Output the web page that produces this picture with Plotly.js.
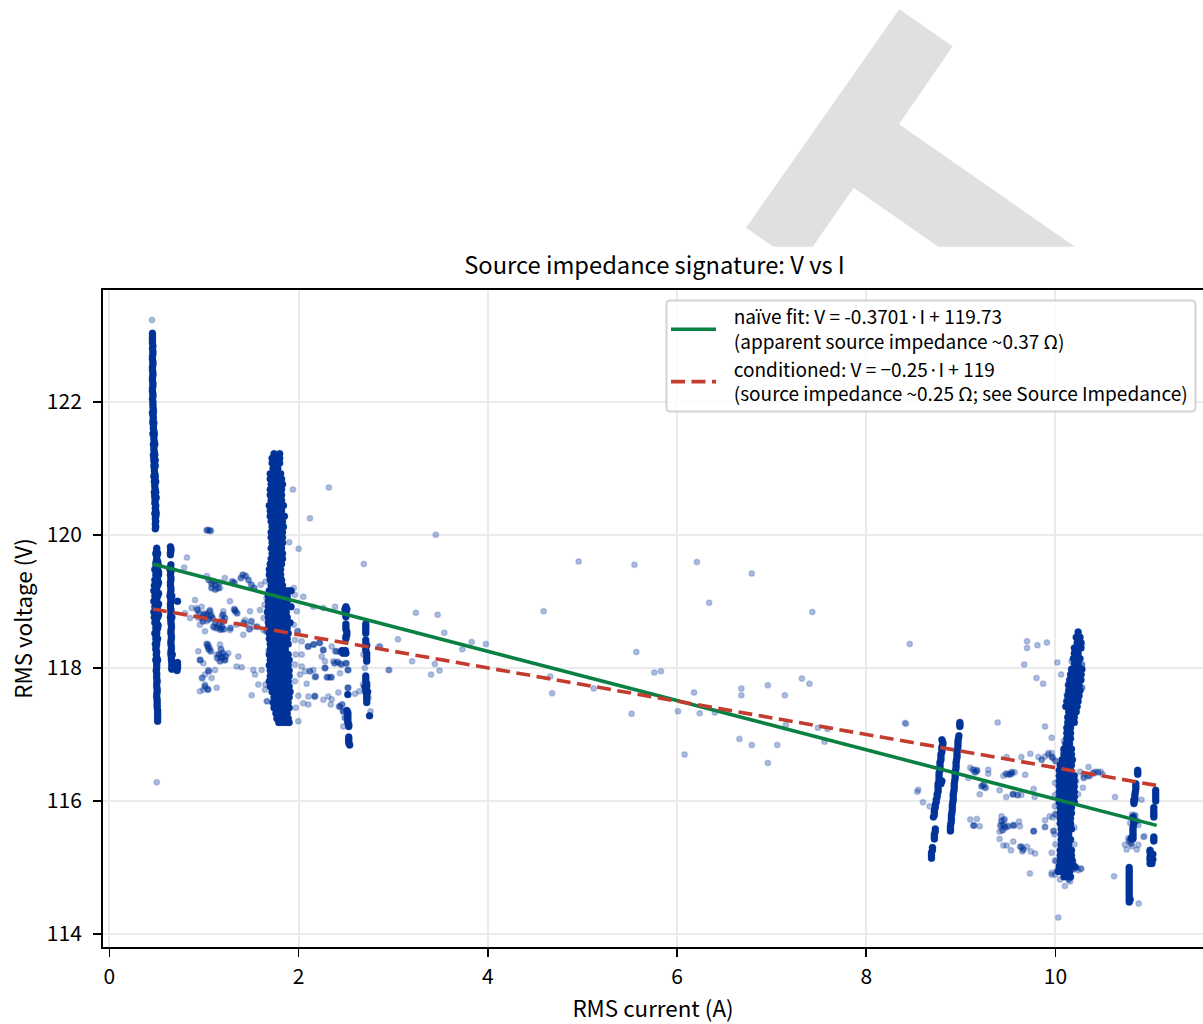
<!DOCTYPE html>
<html><head><meta charset="utf-8">
<script src="https://cdn.plot.ly/plotly-3.0.1.min.js"></script>
<style>html,body{margin:0;padding:0;background:#fff;overflow:hidden}</style></head>
<body><div id="chart"></div>
<script>
// Dense columns: each row is [voltage, current, current, ...]
const colA=[[123.03,.455],[122.99,.455],[122.95,.455],[122.92,.455],[122.88,.455],[122.84,.46],[122.8,.455],[122.76,.46],[122.72,.46],[122.68,.455],[122.64,.455],[122.6,.46],[122.56,.46],[122.52,.455],[122.48,.455],[122.44,.46],[122.4,.46],[122.36,.455],[122.32,.455],[122.28,.46],[122.24,.46],[122.2,.455],[122.16,.455],[122.12,.46],[122.08,.46],[122.04,.455],[122,.46],[121.96,.46],[121.92,.46],[121.88,.465],[121.84,.455,.465],[121.8,.46],[121.76,.465],[121.72,.46],[121.68,.46,.47],[121.64,.465],[121.6,.465],[121.56,.47],[121.52,.46,.475],[121.48,.47],[121.44,.47],[121.4,.475],[121.36,.465,.48],[121.32,.47],[121.28,.47],[121.24,.475],[121.2,.465,.48],[121.16,.47],[121.12,.47,.485],[121.08,.475],[121.04,.47,.485],[121,.475],[120.96,.475],[120.92,.48],[120.88,.47,.485],[120.84,.48],[120.8,.475,.49],[120.76,.48],[120.72,.48],[120.68,.485],[120.64,.475,.49],[120.6,.48],[120.56,.48,.495],[120.52,.485],[120.48,.48],[120.44,.49],[120.4,.485],[120.36,.49],[120.32,.48,.495],[120.28,.49],[120.24,.485],[120.2,.49],[120.16,.485],[120.12,.49],[120.09,.485]];
const colB=[[119.8,.5],[119.76,.5],[119.72,.49,.51],[119.68,.5],[119.64,.5],[119.6,.495,.51],[119.56,.49,.515],[119.52,.5],[119.48,.48,.51],[119.44,.5,.52],[119.4,.49,.52],[119.36,.5],[119.32,.48,.51],[119.28,.5,.52],[119.24,.475,.51],[119.2,.49],[119.16,.47,.5],[119.12,.49,.52],[119.08,.48,.51],[119.04,.5],[119,.47,.5],[118.96,.49,.52],[118.92,.48,.51],[118.88,.5],[118.84,.47,.5],[118.8,.49,.52],[118.76,.475,.51],[118.72,.49],[118.68,.48,.5],[118.64,.5,.515],[118.6,.49,.51],[118.56,.5],[118.52,.48,.5],[118.48,.495],[118.44,.49,.51],[118.4,.5],[118.36,.485,.5],[118.32,.495],[118.28,.49],[118.24,.5],[118.2,.495],[118.16,.5],[118.12,.49,.51],[118.08,.5],[118.04,.5],[118,.5],[117.96,.495],[117.92,.5],[117.88,.5],[117.84,.5],[117.8,.505],[117.76,.5],[117.72,.5],[117.68,.505],[117.64,.505],[117.6,.5],[117.56,.5],[117.52,.505],[117.48,.505],[117.44,.505],[117.4,.505],[117.36,.51],[117.32,.51],[117.28,.51],[117.24,.51],[117.2,.51]];
const colC=[[119.82,.645],[119.79,.65],[119.76,.65],[119.73,.645],[119.7,.645],[119.55,.65],[119.51,.645],[119.48,.64,.655],[119.44,.65],[119.4,.645],[119.36,.65],[119.32,.65],[119.28,.645],[119.24,.645],[119.2,.65],[119.16,.65],[119.12,.645],[119.08,.64,.66],[119.04,.65],[119,.65],[118.96,.645],[118.92,.645],[118.88,.65],[118.84,.65],[118.8,.65],[118.76,.645,.66],[118.72,.65],[118.68,.65],[118.64,.655],[118.6,.655],[118.56,.65],[118.52,.65],[118.48,.655],[118.44,.655],[118.4,.65],[118.36,.65],[118.32,.655],[118.28,.655],[118.24,.65],[118.2,.65,.665],[118.16,.655],[118.12,.655],[118.08,.66],[118.04,.66],[118,.66],[117.98,.66],[119,.72],[118.08,.72],[118.04,.72],[118,.72],[117.96,.715]];
const colD=[[121.22,1.74,1.8],[121.15,1.72,1.76,1.8],[121.08,1.72,1.76,1.8],[121,1.73,1.78],[120.92,1.7,1.74,1.78,1.81],[120.84,1.7,1.74,1.78,1.82],[120.76,1.71,1.75,1.79,1.83],[120.68,1.7,1.74,1.78,1.82],[120.6,1.7,1.74,1.78,1.82],[120.52,1.71,1.75,1.79,1.82],[120.44,1.69,1.73,1.77,1.81,1.84],[120.36,1.7,1.74,1.78,1.82],[120.28,1.7,1.74,1.78,1.82,1.85],[120.2,1.71,1.75,1.79,1.83],[120.12,1.72,1.76,1.8,1.84],[120.04,1.71,1.75,1.79,1.83],[119.96,1.71,1.75,1.79,1.83],[119.88,1.72,1.76,1.8,1.83],[119.8,1.71,1.75,1.79,1.82],[119.72,1.72,1.76,1.8,1.83],[119.64,1.71,1.75,1.79,1.83],[119.56,1.7,1.74,1.78,1.82],[119.48,1.69,1.73,1.77,1.81],[119.4,1.69,1.73,1.77,1.81],[119.32,1.7,1.74,1.78,1.82],[119.24,1.71,1.75,1.79,1.83],[119.16,1.69,1.73,1.77,1.81,1.85,1.89,1.92],[119.08,1.68,1.72,1.76,1.8,1.84,1.88],[119,1.68,1.72,1.76,1.8,1.84,1.88],[118.92,1.68,1.72,1.76,1.8,1.84,1.88,1.92],[118.84,1.67,1.71,1.75,1.79,1.83,1.87],[118.76,1.68,1.72,1.76,1.8,1.84,1.88],[118.68,1.68,1.72,1.76,1.8,1.84,1.88,1.91],[118.6,1.68,1.72,1.76,1.8,1.84,1.88],[118.52,1.69,1.73,1.77,1.81,1.85,1.89],[118.44,1.69,1.73,1.77,1.81,1.85,1.88],[118.36,1.7,1.74,1.78,1.82,1.86,1.89],[118.28,1.7,1.74,1.78,1.82,1.86],[118.2,1.69,1.73,1.77,1.81,1.85,1.89],[118.12,1.7,1.74,1.78,1.82,1.86,1.9],[118.04,1.69,1.73,1.77,1.81,1.85,1.89],[117.96,1.7,1.74,1.78,1.82,1.86,1.9],[117.88,1.7,1.74,1.78,1.82,1.86,1.9],[117.8,1.69,1.73,1.77,1.81,1.85,1.89],[117.72,1.7,1.74,1.78,1.82,1.86,1.9],[117.64,1.72,1.76,1.8,1.84,1.88,1.91],[117.56,1.74,1.78,1.82,1.86,1.9],[117.48,1.73,1.77,1.81,1.85,1.89],[117.4,1.74,1.78,1.82,1.86,1.9],[117.32,1.76,1.8,1.84,1.88],[117.24,1.77,1.81,1.85,1.89],[117.18,1.79,1.83,1.87,1.9]];
const colL=[[118.92,2.5],[118.88,2.49,2.51],[118.84,2.5],[118.8,2.5],[118.77,2.5],[118.66,2.5],[118.62,2.5],[118.58,2.5],[118.54,2.51],[118.5,2.51],[118.47,2.5],[118.44,2.5],[118.26,2.46,2.49],[118.22,2.47,2.5],[117.6,2.52],[117.36,2.51],[117.33,2.52],[117.3,2.52],[117.27,2.52],[117.24,2.52],[117.21,2.52],[117.18,2.52],[117.15,2.53],[117.12,2.53],[116.96,2.53],[116.93,2.53],[116.9,2.53],[116.87,2.53],[116.84,2.54]];
const colM=[[118.66,2.71],[118.63,2.71],[118.6,2.71],[118.56,2.71],[118.52,2.71],[118.42,2.71],[118.38,2.71],[118.34,2.72],[118.3,2.71],[118.26,2.71],[118.22,2.72],[118.18,2.72],[118.14,2.72],[118.1,2.72],[117.88,2.71],[117.84,2.71],[117.8,2.71],[117.76,2.72],[117.72,2.72,2.7],[117.68,2.71],[117.64,2.71,2.73],[117.6,2.72],[117.56,2.72],[117.52,2.72],[117.48,2.72],[117.28,2.75]];
const colE=[[116.92,8.8],[116.88,8.81],[116.85,8.81],[116.81,8.8],[116.78,8.8],[116.74,8.8],[116.7,8.79],[116.66,8.79],[116.62,8.79],[116.58,8.78],[116.54,8.78],[116.5,8.78],[116.46,8.78],[116.42,8.77],[116.38,8.77],[116.34,8.77],[116.3,8.77,8.8],[116.26,8.76,8.79],[116.22,8.76],[116.18,8.76],[116.14,8.76],[116.1,8.75],[116.06,8.75],[116.02,8.74],[115.98,8.74],[115.94,8.73],[115.9,8.73],[115.86,8.72],[115.83,8.72],[115.79,8.72],[115.76,8.71],[115.58,8.73],[115.54,8.73],[115.5,8.72],[115.46,8.72],[115.43,8.72],[115.3,8.7],[115.26,8.7],[115.22,8.69],[115.18,8.69],[115.14,8.69]];
const colF=[[117.18,8.99],[117.15,8.99],[117.12,8.99],[116.98,8.98],[116.94,8.975],[116.9,8.97],[116.86,8.97],[116.82,8.97],[116.78,8.965],[116.74,8.96],[116.7,8.96],[116.66,8.96],[116.62,8.955],[116.58,8.95],[116.54,8.95],[116.5,8.95],[116.46,8.945],[116.42,8.94],[116.38,8.94],[116.34,8.94],[116.3,8.935],[116.26,8.93],[116.22,8.93],[116.18,8.93],[116.14,8.925],[116.1,8.92],[116.06,8.92],[116.02,8.92],[115.98,8.915],[115.94,8.91],[115.9,8.91],[115.86,8.91],[115.82,8.905],[115.78,8.9],[115.74,8.9],[115.7,8.9],[115.66,8.895],[115.62,8.89],[115.58,8.89],[115.55,8.89]];
const colG=[[118.54,10.24],[118.46,10.22,10.26],[118.38,10.23,10.27],[118.3,10.2,10.24,10.27],[118.22,10.2,10.24],[118.14,10.19,10.23,10.26],[118.06,10.2,10.24],[117.98,10.17,10.21,10.25,10.28],[117.9,10.16,10.2,10.24,10.27],[117.82,10.15,10.19,10.23,10.27],[117.74,10.14,10.18,10.22,10.25],[117.66,10.14,10.18,10.22,10.26],[117.58,10.13,10.17,10.21,10.25],[117.5,10.12,10.16,10.2,10.24],[117.42,10.11,10.15,10.19,10.23],[117.34,10.14,10.18,10.22],[117.26,10.13,10.17,10.2],[117.18,10.13,10.17,10.2],[117.1,10.12,10.16],[117.02,10.12,10.16],[116.94,10.12,10.16],[116.86,10.11,10.15],[116.78,10.09,10.13,10.17],[116.7,10.09,10.13,10.17],[116.62,10.07,10.11,10.15,10.18],[116.54,10.05,10.09,10.13,10.17],[116.46,10.04,10.08,10.12,10.16],[116.38,10.04,10.08,10.12,10.16,10.2],[116.3,10.04,10.08,10.12,10.16,10.2],[116.22,10.04,10.08,10.12,10.16,10.2],[116.14,10.04,10.08,10.12,10.16,10.2],[116.06,10.04,10.08,10.12,10.16,10.2],[115.98,10.04,10.08,10.12,10.16,10.2],[115.9,10.05,10.09,10.13,10.17],[115.82,10.05,10.09,10.13,10.17],[115.74,10.05,10.09,10.13,10.16],[115.66,10.05,10.09,10.13,10.16],[115.58,10.06,10.1,10.14,10.17],[115.5,10.06,10.1,10.14],[115.42,10.06,10.1,10.14,10.16],[115.34,10.06,10.1,10.14],[115.26,10.05,10.09,10.13,10.17],[115.18,10.05,10.09,10.13,10.17],[115.1,10.05,10.09,10.13,10.18],[115.02,10.04,10.08,10.12,10.16,10.2],[114.94,10.03,10.07,10.11,10.15],[114.86,10.09,10.13,10.16]];
const colH=[[116.46,10.87],[116.43,10.87],[116.4,10.87],[116.26,10.85],[116.22,10.85],[116.18,10.85],[116.14,10.845],[116.1,10.84],[116.06,10.84],[116.02,10.84,10.83],[115.99,10.83],[115.96,10.83],[115.76,10.82],[115.72,10.825],[115.68,10.83],[115.64,10.825],[115.6,10.82],[115.56,10.82],[115.52,10.82],[115.48,10.82],[115.44,10.82,10.8]];
const colI=[[115,10.78],[114.96,10.78],[114.92,10.78],[114.88,10.78],[114.84,10.78],[114.8,10.78],[114.76,10.78],[114.72,10.78],[114.68,10.78],[114.64,10.78],[114.6,10.78],[114.56,10.78],[114.52,10.78,10.79],[114.48,10.78]];
const colJ=[[116.16,11.06],[116.12,11.06],[116.08,11.06],[116.04,11.06],[116,11.06],[115.9,11.04],[115.86,11.04],[115.82,11.04],[115.79,11.04],[115.76,11.04],[115.46,11.04],[115.43,11.04],[115.4,11.04],[115.26,11],[115.23,11],[115.2,11.01,11.03],[115.16,11],[115.12,11,11.03],[115.09,11.01],[115.06,11,11.02]];
// Loose points, as [current, voltage]
const looseMiddle=[[3.45,120],[4.96,119.6],[5.55,119.55],[6.21,119.59],[6.79,119.42],[6.34,118.98],[7.43,118.84],[4.59,118.85],[3.24,118.83],[3.47,118.8],[3.54,118.53],[3.83,118.39],[3.98,118.36],[3.73,118.28],[5.57,118.24],[3.2,118.1],[3.44,118.06],[3.49,117.96],[3.4,117.9],[5.76,117.93],[5.83,117.95],[4.66,117.87],[4.68,117.62],[5.12,117.69],[5.52,117.31],[6.18,117.63],[6.68,117.69],[6.68,117.59],[6.96,117.74],[7.32,117.84],[7.4,117.76],[7.14,117.59],[6.01,117.35],[6.24,117.32],[6.4,117.33],[7.15,117.14],[7.49,117.1],[7.59,117.08],[7.56,116.89],[6.66,116.93],[6.79,116.84],[7.06,116.84],[6.96,116.57],[6.08,116.7],[8.46,118.36],[8.41,117.17],[8.55,116.17]];
const looseLeft=[[.45,123.23],[1.94,120.68],[2.32,120.71],[2.12,120.25],[2,119.79],[1.9,119.89],[.82,119.66],[.79,119.51],[2.69,119.56],[3.05,118.43],[2.85,118.32],[2.96,117.97],[.5,116.28],[.905,119.02],[.869,118.9],[.922,118.9],[.975,118.92],[1.01,118.82],[1.063,118.87],[1.08,118.8],[1.204,118.85],[1.186,118.77],[1.274,119],[1.327,118.87],[1.486,118.85],[1.592,118.87],[.8,118.82],[.852,118.75],[.94,118.75],[.957,118.65],[1.01,118.55],[1.028,118.7],[1.116,118.6],[1.169,118.57],[1.274,118.57],[1.345,118.65],[1.433,118.72],[1.451,118.65],[1.415,118.5],[1.521,118.62],[1.627,118.57],[1.045,118.35],[1.063,118.3],[1.169,118.35],[1.186,118.17],[1.134,118.2],[1.222,118.12],[1.257,118.22],[1.363,118.17],[.94,118.25],[.957,118.12],[.993,118.07],[1.045,117.97],[1.116,117.97],[1.01,117.9],[1.08,117.85],[1.01,117.75],[.993,117.67],[1.045,117.67],[.957,117.65],[1.134,117.7],[1.345,118.02],[1.398,118.01],[1.521,117.97],[1.539,117.9],[1.609,117.97],[1.574,117.75],[1.504,117.59],[1.662,117.5],[1.644,117.67],[1.03,119.38],[1.17,119.2],[1.22,119.35],[1.67,117.5],[1.6,119.25],[1.65,119.3],[1.66,119.05],[1.63,118.75],[1.64,118.95],[1.65,117.75],[1.68,118.25]];
const looseCentre=[[2.05,119.07],[1.962,118.42],[2.033,118.4],[2.103,118.32],[2.156,118.35],[2.226,118.37],[2.262,118.27],[2.35,118.32],[2.385,118.25],[2.156,118.92],[2.262,118.9],[2.385,118.92],[2.033,118.2],[2.244,118.17],[1.962,118.05],[2.033,118.02],[2.015,117.9],[2.068,117.95],[2.156,117.97],[2.173,117.86],[2.279,118],[2.279,118.1],[2.367,118.1],[2.438,118.07],[2.508,118.07],[2.526,117.97],[2.438,117.92],[2.314,117.86],[2.35,117.86],[2.085,117.76],[1.997,117.58],[2.103,117.57],[2.173,117.58],[2.05,117.47],[2.103,117.45],[2.262,117.52],[2.314,117.57],[2.35,117.53],[2.339,117.45],[2.42,117.63],[2.526,117.7],[2.596,117.61],[2.642,117.65],[2.438,117.42],[2.473,117.35],[2.473,117.12],[1.997,117.2],[2.684,118.2],[2.861,118.32],[2.949,117.97],[1.96,119.1],[1.98,118.85],[1.95,118.65],[1.97,118.2],[1.96,117.8],[1.97,117.4],[1.95,119.2],[2.7,118.0],[2.74,117.55],[2.68,117.75],[2.76,117.35]];
const looseRight=[[8.42,117.16],[9.39,117.18],[9.89,117.12],[9.96,116.95],[9.485,116.66],[9.64,116.66],[9.735,116.71],[9.82,116.66],[9.925,116.7],[9.96,116.72],[9.855,116.62],[9.1,116.5],[9.17,116.47],[9.08,116.345],[9.29,116.47],[9.29,116.41],[9.45,116.38],[9.5,116.395],[9.54,116.41],[9.57,116.43],[9.68,116.395],[9.2,116.1],[9.41,116.16],[9.48,116.06],[9.555,116.1],[9.64,116.09],[9.77,116.18],[9.78,116.06],[8.54,116.14],[8.6,115.98],[8.67,115.92],[9.1,115.72],[9.17,115.73],[9.13,115.63],[9.2,115.62],[9.43,115.77],[9.41,115.54],[9.555,115.64],[9.615,115.69],[9.625,115.62],[9.77,115.54],[9.41,115.43],[9.555,115.39],[9.45,115.33],[9.485,115.33],[9.53,115.26],[9.625,115.31],[9.65,115.24],[9.7,115.31],[9.74,115.24],[9.785,115.21],[9.73,114.91],[9.89,115.71],[9.89,115.61],[9.96,114.89],[9.7,118.4],[9.7,118.3],[9.81,118.34],[9.91,118.38],[9.67,118.05],[10.02,118.08],[10.06,117.9],[9.8,117.85],[9.87,117.76],[10.03,114.25],[10.62,114.87],[10.88,114.46],[10.63,116.06],[10.35,116.51],[10.29,116.2],[10.93,115.46],[10.26,116.44],[10.3,116.4],[10.34,116.37],[10.42,116.44],[10.48,116.44],[10.5,116.4],[10.735,115.34],[10.753,115.27],[10.77,115.44],[10.81,115.32],[10.86,115.27],[10.877,115.34],[10.824,115.47],[10.79,115.67],[10.81,115.795],[10.877,115.64],[10.91,116.02],[10.94,115.47],[9.855,116.62],[9.89,116.67],[9.925,116.72],[9.96,116.67],[9.995,116.27],[9.995,116.09],[9.995,115.92],[9.94,115.77],[9.89,115.61],[9.96,115.22],[9.96,114.92],[10.21,114.99],[9.995,114.89],[10.05,114.82],[10.155,114.79],[10.24,114.96],[10.1,114.72],[9.99,115.5],[9.97,115.75],[10,115.35],[10.12,117.6],[10.14,117.45],[10.09,116.9],[10.08,116.75],[10.22,116.3],[10.24,116.1],[10.2,115.6],[10.2,115.35],[10.28,118.35],[10.17,118.1],[10.28,117.9],[10.13,117.75]];
const clusterLeft=[[1.05,120.07],[1.07,120.06],[1.03,120.07],[1.05,119.32],[1.08,119.27],[1.12,119.25],[1.15,119.2],[1.1,119.3],[1.16,119.28],[1.08,119.2],[1.12,119.18],[1.41,119.4],[1.44,119.38],[1.39,119.35],[1.47,119.32],[1.5,119.25],[1.53,119.2],[1.3,119.3],[1.32,119.28],[1.1,118.62],[1.14,118.6],[1.18,118.58],[1.16,118.65],[1.12,118.68],[1.2,118.7],[1.05,118.73],[1.06,118.85],[1.07,118.78],[1.03,118.8],[1.09,118.75],[1.19,118.62],[1.21,118.58],[1.04,118.32],[1.05,118.28],[1.03,118.36],[1.07,118.25],[1.16,118.2],[1.19,118.15],[1.22,118.12],[1.17,118.1],[1.2,118.22],[1.14,118.15],[1.23,118.18],[1.18,118.28],[.93,118.87],[.95,118.82],[1.0,118.8],[.98,118.75],[1.2,118.8],[1.22,118.75],[1.33,118.85],[1.35,118.82],[1.32,118.88],[.99,118.7],[.96,118.12],[1.05,117.95],[1.01,117.72],[.98,117.85],[1.04,117.68],[1.28,118.6],[1.42,118.68],[1.5,118.7],[1.56,118.62],[1.66,118.55],[1.48,118.58]];
const clusterCentre=[[2.47,118.25],[2.44,118.24],[2.5,118.26],[2.45,118.05],[2.38,118.07],[2.41,118.09],[2.5,118.07],[2.52,117.97],[2.3,117.86],[2.34,117.86],[2.18,117.87],[2.12,117.95],[2.52,117.7],[2.43,117.42],[2.47,117.35],[2.46,117.45],[2.49,117.25],[2.16,118.35],[2.26,118.27],[2.4,118.25],[2.1,118.32],[2.28,118],[2.22,118.38],[2.17,117.57],[1.99,118.55]];
const clusterRight=[[9.13,116.47],[9.15,116.43],[9.17,116.45],[9.24,116.24],[9.26,116.2],[9.22,116.22],[9.48,116.41],[9.52,116.4],[9.54,116.43],[9.43,115.7],[9.45,115.64],[9.47,115.6],[9.44,115.56],[9.5,115.62],[9.56,115.63],[9.46,115.72],[9.42,115.63],[9.64,115.31],[9.66,115.27],[9.77,115.55],[9.14,115.63],[9.55,116.1],[9.6,116.09],[10.78,115.4],[10.82,115.42],[10.8,115.36],[10.84,115.78],[10.86,115.7],[10.3,116.35],[10.45,116.43],[10.36,116.38],[10.4,116.42],[10.22,115],[10.18,114.97],[10.27,114.98],[10.02,114.95],[10.06,114.98],[10.14,114.82],[10.1,114.87],[10,116.6],[9.97,116.65],[10,115.8],[9.98,115.55],[10,115.1],[10.28,117.7],[10.28,118.05]];
const bandAll=[colA,colB,colC,colD,colL,colM,colE,colF,colG,colH,colI,colJ];
const looseAll=[looseMiddle,looseLeft,looseCentre,looseRight];
const clusterAll=[clusterLeft,clusterCentre,clusterRight];
// Fit lines
const fitCurrent=[0.46,11.07];
const naiveVoltage=[119.56,115.633];
const conditionedVoltage=[118.885,116.233];
const xTicks=[0,2,4,6,8,10];
const yTicks=[114,116,118,120,122];
const chartTitle='Source impedance signature: V vs I';
const xTitle='RMS current (A)';
const yTitle='RMS voltage (V)';
const pad='\u00a0\u00a0\u00a0';
const naiveName=pad+'naïve fit: V = -0.3701·I + 119.73<br>'+pad+'(apparent source impedance ~0.37 Ω)';
const conditionedName=pad+'conditioned: V = −0.25·I + 119<br>'+pad+'(source impedance ~0.25 Ω; see Source Impedance)';
// Watermark outline in page pixels
const logoOutline=[[899.3,9],[952.7,46],[899,124],[1075,246.7],[938.3,246.7],[853.7,187.7],[812.7,246.7],[773.3,246.7],[746,227.7]];

const FONT='"Noto Sans CJK JP","Noto Sans",sans-serif';
const L=103,T=290,B=947.5,W=1203,H=1024;
const bx=[],by=[];bandAll.forEach(c=>c.forEach(r=>{for(let i=1;i<r.length;i++){bx.push(r[i]);by.push(r[0]);}}));
const lx=[],ly=[];looseAll.forEach(c=>c.forEach(p=>{lx.push(p[0]);ly.push(p[1]);}));
const cx=[],cy=[];clusterAll.forEach(c=>c.forEach(p=>{cx.push(p[0]);cy.push(p[1]);}));
const px=x=>(x-L)/(W-L), py=y=>(B-y)/(B-T);
const logoPath='M'+logoOutline.map(p=>px(p[0]).toFixed(5)+','+py(p[1]).toFixed(5)).join(' L')+' Z';
const X=v=>px(v).toFixed(5),Y=v=>py(v).toFixed(5);
const b={l:666.5,r:1195.5,t:300.5,b:411.5,c:4};
const boxPath=`M${X(b.l+b.c)},${Y(b.t)} L${X(b.r-b.c)},${Y(b.t)} Q${X(b.r)},${Y(b.t)} ${X(b.r)},${Y(b.t+b.c)} L${X(b.r)},${Y(b.b-b.c)} Q${X(b.r)},${Y(b.b)} ${X(b.r-b.c)},${Y(b.b)} L${X(b.l+b.c)},${Y(b.b)} Q${X(b.l)},${Y(b.b)} ${X(b.l)},${Y(b.b-b.c)} L${X(b.l)},${Y(b.t+b.c)} Q${X(b.l)},${Y(b.t)} ${X(b.l+b.c)},${Y(b.t)} Z`;
const traces=[
 {type:'scatter',mode:'markers',x:lx,y:ly,showlegend:false,hoverinfo:'skip',marker:{size:5.5,color:'rgba(0,51,153,0.32)',line:{width:1.5,color:'rgba(0,51,153,0.2)'}}},
 {type:'scatter',mode:'markers',x:cx,y:cy,showlegend:false,hoverinfo:'skip',marker:{size:6,color:'rgba(0,51,153,0.6)',line:{width:1.5,color:'rgba(0,51,153,0.25)'}}},
 {type:'scatter',mode:'markers',x:bx,y:by,showlegend:false,hoverinfo:'skip',marker:{size:7,color:'rgb(0,51,153)',line:{width:1,color:'rgba(0,51,153,0.35)'}}},
 {type:'scatter',mode:'lines',x:fitCurrent,y:naiveVoltage,name:naiveName,line:{color:'#0b8043',width:3.6}},
 {type:'scatter',mode:'lines',x:fitCurrent,y:conditionedVoltage,name:conditionedName,line:{color:'#c43c2f',width:3.6,dash:'14px,6.5px'}}
];
const layout={
 width:W,height:H,autosize:false,paper_bgcolor:'#fff',plot_bgcolor:'#fff',
 margin:{l:L,r:0,t:T,b:H-B,pad:0},
 font:{family:FONT,size:21,color:'#000'},
 title:{text:chartTitle,font:{size:23.7,family:FONT,color:'#000'},xref:'container',x:654.5/W,xanchor:'center',yref:'container',y:1-266/H,yanchor:'middle'},
 xaxis:{range:[-0.0677,11.56],tickvals:xTicks,ticktext:xTicks.map(String),ticks:'outside',ticklen:8,tickwidth:1.6,tickcolor:'#000',ticklabelstandoff:2,
  showline:true,linecolor:'#000',linewidth:2,mirror:true,showgrid:true,gridcolor:'#ebebeb',gridwidth:2,zeroline:false,
  title:{text:xTitle,standoff:12,font:{size:22.4,family:FONT}},tickfont:{size:21,family:FONT}},
 yaxis:{range:[113.805,123.68],tickvals:yTicks,ticktext:yTicks.map(String),ticks:'outside',ticklen:8,tickwidth:1.6,tickcolor:'#000',ticklabelstandoff:7,
  showline:true,linecolor:'#000',linewidth:2,mirror:false,showgrid:true,gridcolor:'#ebebeb',gridwidth:2,zeroline:false,
  title:{text:yTitle,standoff:8,font:{size:22.4,family:FONT}},tickfont:{size:21,family:FONT}},
 legend:{x:px(1193),xanchor:'right',y:py(298),yanchor:'top',bgcolor:'rgba(0,0,0,0)',borderwidth:0,font:{size:19,family:FONT,color:'#000'},itemwidth:45,traceorder:'normal',tracegroupgap:0},
 shapes:[
  {type:'path',xref:'paper',yref:'paper',path:logoPath,fillcolor:'#e0e0e0',line:{width:0},layer:'below'},
  {type:'path',xref:'paper',yref:'paper',path:boxPath,fillcolor:'rgba(255,255,255,0.8)',line:{width:2,color:'#d4d4d4'},layer:'above'}
 ],
 showlegend:true
};
Plotly.newPlot('chart',traces,layout,{displayModeBar:false,staticPlot:true});
</script></body></html>
